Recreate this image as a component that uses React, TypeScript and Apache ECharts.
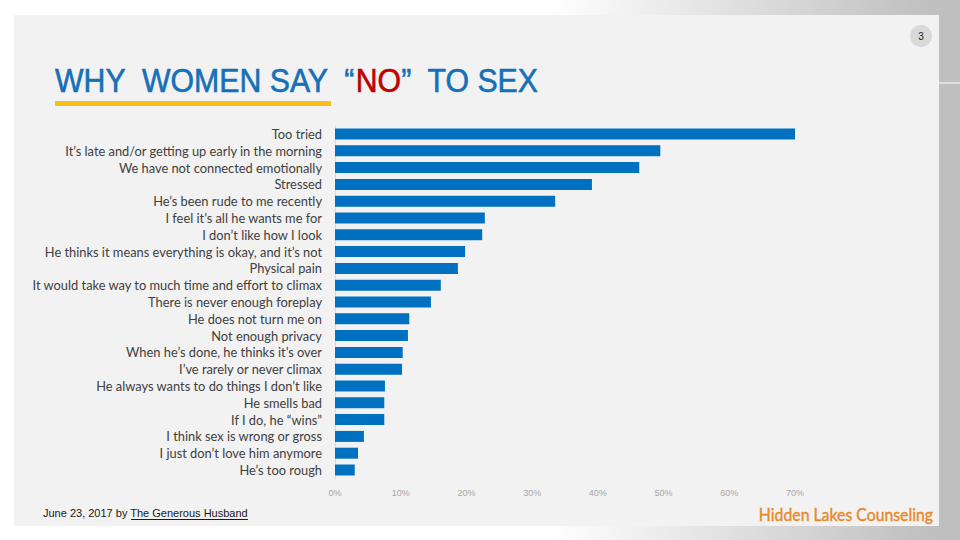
import React, { useEffect, useRef } from "react";
import * as echarts from "echarts";

const categories = [
  "Too tried",
  "It’s late and/or getting up early in the morning",
  "We have not connected emotionally",
  "Stressed",
  "He’s been rude to me recently",
  "I feel it’s all he wants me for",
  "I don’t like how I look",
  "He thinks it means everything is okay, and it’s not",
  "Physical pain",
  "It would take way to much time and effort to climax",
  "There is never enough foreplay",
  "He does not turn me on",
  "Not enough privacy",
  "When he’s done, he thinks it’s over",
  "I’ve rarely or never climax",
  "He always wants to do things I don’t like",
  "He smells bad",
  "If I do, he “wins”",
  "I think sex is wrong or gross",
  "I just don’t love him anymore",
  "He’s too rough",
];

const values = [70, 49.5, 46.3, 39.1, 33.5, 22.8, 22.4, 19.8, 18.7, 16.1, 14.6, 11.3, 11.1, 10.3, 10.2, 7.6, 7.5, 7.5, 4.4, 3.5, 3.0];

const xTicks = [0, 10, 20, 30, 40, 50, 60, 70];

const titleParts = ["WHY  WOMEN SAY  “", "NO", "”  TO SEX"];
const dateText = "June 23, 2017 by ";
const authorText = "The Generous Husband";
const brandText = "Hidden Lakes Counseling";
const pageNumber = "3";

export default function App() {
  const ref = useRef<HTMLDivElement>(null);
  useEffect(() => {
    if (!ref.current) return;
    const chart = echarts.init(ref.current, undefined, { renderer: "svg" });
    chart.setOption({
      animation: false,
      backgroundColor: "#ffffff",
      graphic: [
        {
          type: "rect",
          z: -10,
          silent: true,
          shape: { x: 0, y: 0, width: 960, height: 15 },
          style: {
            fill: new echarts.graphic.LinearGradient(0, 0, 1, 0, [
              { offset: 0, color: "#ffffff" },
              { offset: 0.57, color: "#ffffff" },
              { offset: 0.95, color: "#c2c2c2" },
              { offset: 1, color: "#bdbdbd" },
            ]),
          },
        },
        {
          type: "rect",
          z: -10,
          silent: true,
          shape: { x: 0, y: 526, width: 960, height: 14 },
          style: {
            fill: new echarts.graphic.LinearGradient(0, 0, 1, 0, [
              { offset: 0, color: "#ffffff" },
              { offset: 0.57, color: "#ffffff" },
              { offset: 0.95, color: "#c2c2c2" },
              { offset: 1, color: "#bdbdbd" },
            ]),
          },
        },
        {
          type: "rect",
          z: -9,
          silent: true,
          shape: { x: 939, y: 0, width: 21, height: 540 },
          style: { fill: "#bfbfbf" },
        },
        {
          type: "line",
          z: -8,
          silent: true,
          shape: { x1: 939, y1: 83, x2: 960, y2: 83 },
          style: { stroke: "#ffffff", lineWidth: 1 },
        },
        {
          type: "rect",
          z: -8,
          silent: true,
          shape: { x: 14, y: 15, width: 925, height: 511 },
          style: { fill: "#f2f2f2" },
        },
        {
          type: "circle",
          silent: true,
          shape: { cx: 921, cy: 36, r: 11 },
          style: { fill: "#d9d9d9" },
        },
        {
          type: "text",
          silent: true,
          x: 921,
          y: 36,
          style: {
            text: pageNumber,
            fill: "#222222",
            font: "10px 'Liberation Sans'",
            align: "center",
            verticalAlign: "middle",
          },
        },
        {
          type: "text",
          silent: true,
          x: 55,
          y: 81,
          scaleX: 0.918,
          style: {
            text: `{b|${titleParts[0]}}{r|${titleParts[1]}}{b|${titleParts[2]}}`,
            verticalAlign: "middle",
            align: "left",
            rich: {
              b: { fill: "#1570b8", fontSize: 33, fontFamily: "Liberation Sans", stroke: "#1570b8", lineWidth: 0.6 },
              r: { fill: "#c00000", fontSize: 33, fontFamily: "Liberation Sans", stroke: "#c00000", lineWidth: 0.6 },
            },
          },
        },
        {
          type: "rect",
          silent: true,
          shape: { x: 55, y: 101, width: 276, height: 5 },
          style: { fill: "#f5c01e" },
        },
        {
          type: "text",
          silent: true,
          x: 43,
          y: 513,
          style: {
            text: dateText + authorText,
            fill: "#1a1a1a",
            font: "11px 'Liberation Sans'",
            align: "left",
            verticalAlign: "middle",
          },
        },
        {
          type: "line",
          silent: true,
          shape: { x1: 131, y1: 519.5, x2: 248, y2: 519.5 },
          style: { stroke: "#1a1a1a", lineWidth: 1 },
        },
        {
          type: "text",
          silent: true,
          x: 933,
          y: 514,
          scaleX: 0.93,
          style: {
            text: brandText,
            fill: "#e8892b",
            font: "17px Lato",
            align: "right",
            verticalAlign: "middle",
            stroke: "#e8892b",
            lineWidth: 0.4,
          },
        },
      ],
      grid: { left: 335, right: 165, top: 125.6, bottom: 61.6, containLabel: false },
      xAxis: {
        type: "value",
        min: 0,
        max: 70,
        interval: 10,
        axisLine: { show: false },
        axisTick: { show: false },
        splitLine: { show: false },
        axisLabel: {
          color: "#a6a6a6",
          fontSize: 9,
          fontFamily: "Liberation Sans",
          margin: 10,
          formatter: (v: number) => (xTicks.includes(v) ? `${v}%` : ""),
        },
      },
      yAxis: {
        type: "category",
        inverse: true,
        data: categories,
        axisLine: { show: true, lineStyle: { color: "#d9d9d9", width: 1 } },
        axisTick: { show: false },
        axisLabel: {
          interval: 0,
          color: "#404040",
          fontSize: 12.85,
          fontFamily: "Lato",
          margin: 13,
        },
      },
      series: [
        {
          type: "bar",
          data: values,
          barWidth: 11,
          itemStyle: { color: "#0070c0" },
        },
      ],
    });
    return () => chart.dispose();
  }, []);
  return (
    <div
      ref={ref}
      style={{ position: "fixed", left: 0, top: 0, width: 960, height: 540 }}
    />
  );
}
